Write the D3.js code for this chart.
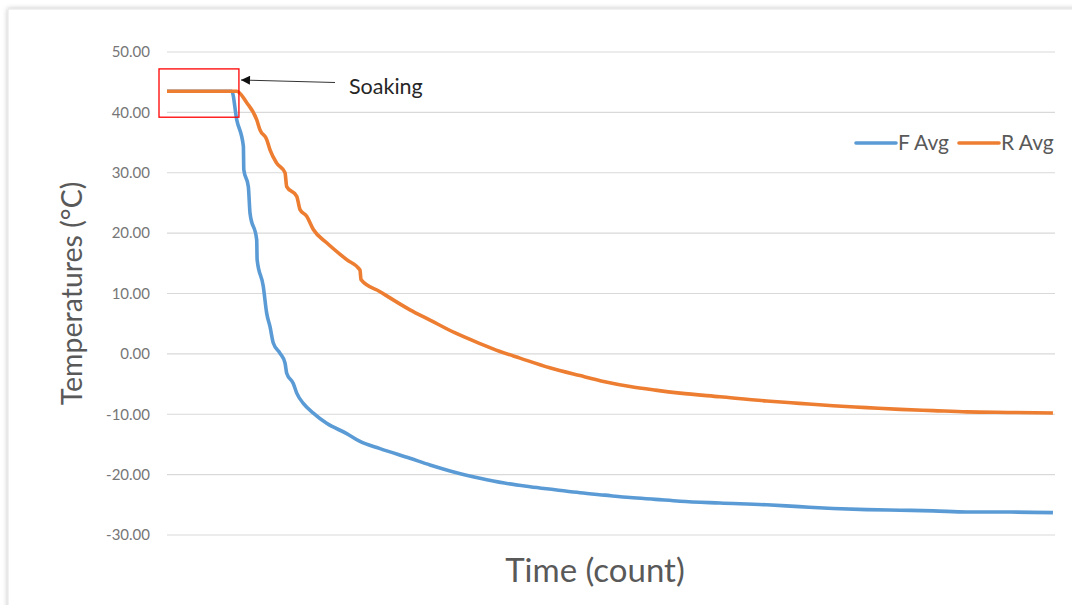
<!DOCTYPE html>
<html lang="en">
<head>
  <meta charset="utf-8">
  <title>Soaking then cooling: F Avg / R Avg</title>
  <script src="https://cdn.jsdelivr.net/npm/d3@7/dist/d3.min.js"></script>
  <style>
    html, body { margin: 0; padding: 0; background: #fff; }
    svg { display: block; font-family: Lato, "Open Sans", sans-serif; }
  </style>
</head>
<body>
<div id="chart"></div>
<script>
  // ---- data ----
  const yTicks = [50, 40, 30, 20, 10, 0, -10, -20, -30];

  const countF = [0, 73, 78.5, 86, 86.5, 91.6, 93.5, 101, 101.5, 108.4, 112.3, 116, 119.7, 127.3,
                  132.9, 134.8, 142.2, 146.1, 153.5, 164.8, 179.8, 202.4, 217.3, 239.9, 273.6,
                  296.2, 324, 352.5, 380, 408.8, 437, 465.1, 493, 521.4, 550, 577.7, 622.7, 675.3,
                  712, 750, 788, 825.5, 863, 900.6, 950, 997.7];
  const fAvg   = [43.5, 43.5, 38.8, 34.4, 30.5, 27.7, 23.3, 18.9, 15.6, 11.2, 6.7, 4.5, 1.8, 0.1,
                  -1.5, -3.2, -4.9, -6.5, -8.2, -9.8, -11.5, -13.2, -14.5, -15.7, -17.3,
                  -18.4, -19.6, -20.6, -21.4, -22.0, -22.5, -23.0, -23.4, -23.8, -24.1, -24.4, -24.7, -25.0,
                  -25.3, -25.6, -25.8, -25.9, -26.0, -26.2, -26.2, -26.3];

  const countR = [0, 78.5, 89.8, 101, 104.7, 112.3, 116, 123.5, 132.9, 134.8, 146.1, 149.8, 157.3,
                  164.8, 179.8, 202.4, 217.3, 218.5, 239.9, 273.6, 296.2, 324, 352.5, 375, 397.5,
                  431, 465.1, 493, 521.4, 550, 577.7, 622.7, 675.3, 712, 750, 788, 825.5, 863,
                  900.6, 950, 997.7];
  const rAvg   = [43.5, 43.5, 41.6, 38.8, 37.1, 35.5, 33.8, 31.6, 30.0, 27.7, 26.1, 23.9, 22.8,
                  20.6, 18.4, 15.6, 13.9, 12.3, 10.3, 7.3, 5.6, 3.5, 1.7, 0.4, -0.7,
                  -2.3, -3.6, -4.6, -5.4, -6.0, -6.5, -7.1, -7.8, -8.2, -8.6, -8.9, -9.2, -9.4,
                  -9.6, -9.7, -9.8];

  const seriesNames  = ["F Avg", "R Avg"];
  const seriesColors = ["#5B9BD5", "#ED7D31"];

  // ---- layout ----
  const W = 1072, H = 605;
  const plot = { left: 167, right: 1055, top: 52, bottom: 535 };

  const x = d3.scaleLinear().domain([0, 1000]).range([plot.left, plot.right]);
  const y = d3.scaleLinear().domain([-30, 50]).range([plot.bottom, plot.top]);

  const svg = d3.select("#chart").append("svg")
    .attr("width", W).attr("height", H);

  const defs = svg.append("defs");
  const sh = defs.append("filter").attr("id", "shadow")
    .attr("x", "-5%").attr("y", "-5%").attr("width", "110%").attr("height", "110%");
  sh.append("feDropShadow").attr("dx", 0).attr("dy", 0).attr("stdDeviation", 2.5)
    .attr("flood-color", "#000").attr("flood-opacity", 0.25);

  defs.append("marker").attr("id", "arrow")
    .attr("viewBox", "0 0 10 10").attr("refX", 10).attr("refY", 5)
    .attr("markerWidth", 11).attr("markerHeight", 9).attr("orient", "auto")
    .attr("markerUnits", "userSpaceOnUse")
    .append("path").attr("d", "M0,0 L10,5 L0,10 Z").attr("fill", "#111");

  // chart frame (screenshot-like)
  svg.append("rect")
    .attr("x", 8).attr("y", 9).attr("width", W + 10).attr("height", H + 10)
    .attr("fill", "#fff").attr("stroke", "#e3e3e3")
    .attr("filter", "url(#shadow)");

  // gridlines
  svg.append("g")
    .selectAll("line")
    .data(yTicks)
    .join("line")
      .attr("x1", plot.left).attr("x2", plot.right)
      .attr("y1", d => y(d)).attr("y2", d => y(d))
      .attr("stroke", "#d9d9d9").attr("stroke-width", 1.2);

  // y axis labels
  const fmt = d3.format(".2f");
  const yAxis = svg.append("g")
    .attr("transform", `translate(${plot.left},0)`)
    .call(d3.axisLeft(y).tickValues(yTicks)
      .tickFormat(d => fmt(d).replace("\u2212", "-"))
      .tickSize(0).tickPadding(17));
  yAxis.select(".domain").remove();
  yAxis.selectAll("text")
    .attr("fill", "#767676").attr("font-size", 15)
    .attr("font-family", "Lato, 'Open Sans', sans-serif");

  // axis titles
  svg.append("text")
    .attr("transform", `translate(82,${(y(50) + y(-30)) / 2}) rotate(-90)`)
    .attr("text-anchor", "middle")
    .attr("fill", "#595959").attr("font-size", 28.5)
    .text("Temperatures (°C)");

  svg.append("text")
    .attr("x", 595).attr("y", 582)
    .attr("text-anchor", "middle")
    .attr("fill", "#595959").attr("font-size", 33)
    .text("Time (count)");

  // lines
  const line = d3.line().x(d => x(d[0])).y(d => y(d[1])).curve(d3.curveMonotoneX);
  const series = [
    d3.zip(countF, fAvg),
    d3.zip(countR, rAvg)
  ];

  svg.append("g")
    .selectAll("path")
    .data(series)
    .join("path")
      .attr("fill", "none")
      .attr("stroke", (d, i) => seriesColors[i])
      .attr("stroke-width", 3.6)
      .attr("stroke-linejoin", "round")
      .attr("d", line);

  // legend
  const legendX = [855, 958];
  const lg = svg.append("g").selectAll("g")
    .data(seriesNames)
    .join("g")
      .attr("transform", (d, i) => `translate(${legendX[i]},143)`);
  lg.append("line")
    .attr("x1", 1).attr("x2", 41)
    .attr("stroke", (d, i) => seriesColors[i])
    .attr("stroke-width", 3.6).attr("stroke-linecap", "round");
  lg.append("text")
    .attr("x", 43).attr("y", 7)
    .attr("fill", "#595959").attr("font-size", 21)
    .text(d => d);

  // soaking annotation
  svg.append("rect")
    .attr("x", x(-9)).attr("y", y(47.2))
    .attr("width", x(81) - x(-9)).attr("height", y(39.2) - y(47.2))
    .attr("fill", "none").attr("stroke", "#ff0000").attr("stroke-width", 1.3);

  svg.append("line")
    .attr("x1", 335).attr("y1", 82.5)
    .attr("x2", 241).attr("y2", 80)
    .attr("stroke", "#333").attr("stroke-width", 1)
    .attr("marker-end", "url(#arrow)");

  svg.append("text")
    .attr("x", 349).attr("y", 94)
    .attr("fill", "#262626").attr("font-size", 21.5)
    .text("Soaking");
</script>
</body>
</html>
